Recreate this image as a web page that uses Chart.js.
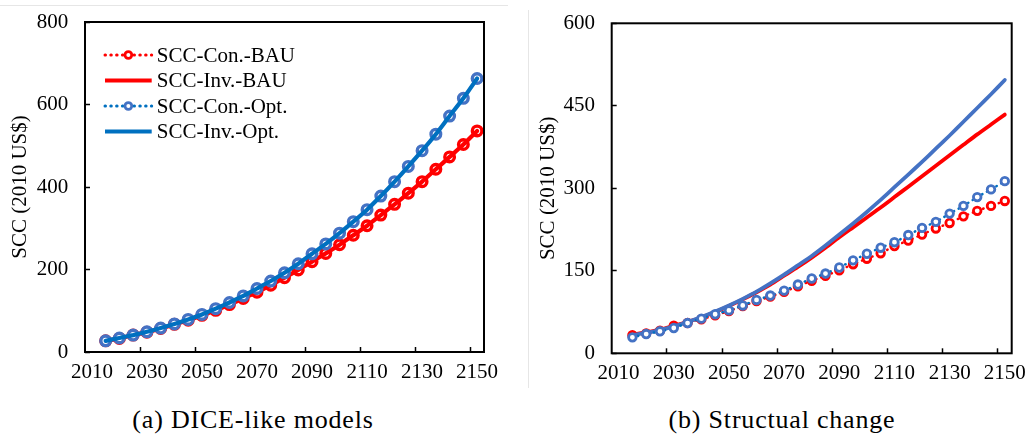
<!DOCTYPE html>
<html><head><meta charset="utf-8">
<script src="https://cdn.jsdelivr.net/npm/chart.js@4.4.1/dist/chart.umd.min.js"></script>
<style>
html,body{margin:0;padding:0;background:#fff;}
body{width:1028px;height:435px;position:relative;overflow:hidden;font-family:"Liberation Serif","Times New Roman",Tinos,"DejaVu Serif",serif;}
#c1{position:absolute;left:0;top:0;}
#c2{position:absolute;left:520px;top:0;}
.cap{position:absolute;top:405px;font-size:26px;line-height:30px;letter-spacing:0.8px;color:#000;white-space:nowrap;transform:translateX(-50%);}
.hline{position:absolute;left:0;top:5px;width:508px;height:1px;background:#e6e6e6;}
.vline{position:absolute;left:528px;top:10px;width:1px;height:378px;background:#e6e6e6;}
</style></head><body>
<div class="hline"></div>
<div class="vline"></div>
<canvas id="c1" width="520" height="400"></canvas>
<canvas id="c2" width="508" height="400"></canvas>
<div class="cap" style="left:253px">(a) DICE-like models</div>
<div class="cap" style="left:782px">(b) Structual change</div>
<script>
// ---- data ----
const years = [2015,2020,2025,2030,2035,2040,2045,2050,2055,2060,2065,2070,2075,2080,2085,2090,2095,2100,2105,2110,2115,2120,2125,2130,2135,2140,2145,2150];
const xCategories = ['2010','2015','2020','2025','2030','2035','2040','2045','2050','2055','2060','2065','2070','2075','2080','2085','2090','2095','2100','2105','2110','2115','2120','2125','2130','2135','2140','2145','2150'];
const xTickLabels = ['2010','2030','2050','2070','2090','2110','2130','2150'];
const leftTicksY = [0,200,400,600,800];
const rightTicksY = [0,150,300,450,600];
const seriesNames = ['SCC-Con.-BAU','SCC-Inv.-BAU','SCC-Con.-Opt.','SCC-Inv.-Opt.'];
const yTitle = 'SCC (2010 US$)';

// (a) DICE-like models
const leftConBAU = [27,33,41,48,57,67,77,89,101,115,130,145,162,180,199,219,239,260,283,306,332,358,385,413,443,473,503,536];
const leftInvBAU = [27,33,41,48,57,67,77,89,101,115,130,145,162,180,199,219,239,260,283,306,332,358,385,413,443,473,503,536];
const leftConOpt = [27,34,41,49,58,68,79,91,105,120,136,154,172,192,214,238,262,288,316,345,378,413,450,488,528,572,615,663];
const leftInvOpt = [27,34,41,49,58,68,79,91,105,120,136,154,172,192,214,238,262,288,316,345,378,413,450,488,528,572,615,663];

// (b) Structual change
const rightConBAU = [33,36,41,50,55,62,69,77,86,95,103,112,122,132,141,151,162,172,182,195,205,216,227,237,249,259,268,277];
const rightInvBAU = [34,38,43,50,57,65,75,86,98,111,125,141,157,174,192,211,229,247,265,284,303,322,341,360,379,398,416,434];
const rightConOpt = [29,35,40,46,55,63,71,78,87,97,105,114,125,136,145,156,169,181,192,202,215,228,239,254,268,284,298,313];
const rightInvOpt = [33,37,42,49,57,66,76,87,99,112,127,143,160,177,196,216,236,257,279,302,325,348,372,396,421,446,471,497];

// ---- styles ----
const RED = '#FF0000', BLUE_LINE = '#0070C0', BLUE_MARK = '#4472C4';
const FAMILY = '"Liberation Serif", "Times New Roman", Tinos, "DejaVu Serif", serif';
Chart.defaults.font.family = FAMILY;
Chart.defaults.font.size = 21;
Chart.defaults.color = '#000';

function conSet(label, vals, lineColor, markColor, r, bw, order) {
  return { label, data: [null, ...vals], kind: 'con', borderColor: lineColor, markColor,
    borderWidth: 2.5, borderDash: [0.5, 5], borderCapStyle: 'round', tension: 0.2,
    pointStyle: 'circle', pointRadius: r, pointBorderWidth: bw, pointBorderColor: markColor,
    pointBackgroundColor: '#fff', order };
}
function invSet(label, vals, color, w, order) {
  return { label, data: [null, ...vals], kind: 'inv', borderColor: color, borderWidth: w,
    borderCapStyle: 'round', tension: 0.2, pointRadius: 0, order };
}

const framePlugin = {
  id: 'frame',
  afterDraw(chart) {
    const { ctx, chartArea: a } = chart;
    ctx.save();
    ctx.strokeStyle = '#000'; ctx.lineWidth = 2;
    ctx.strokeRect(a.left, a.top, a.right - a.left, a.bottom - a.top);
    ctx.restore();
  }
};

const keyPlugin = {
  id: 'seriesKey',
  afterDraw(chart) {
    const { ctx, chartArea: a } = chart;
    const x0 = a.left + 20, x1 = a.left + 66.7, xt = a.left + 71.7;
    ctx.save();
    chart.data.datasets.forEach((ds, i) => {
      const y = a.top + 33 + i * 25.5;
      if (ds.kind === 'con') {
        ctx.strokeStyle = ds.borderColor; ctx.lineWidth = 3; ctx.lineCap = 'round';
        ctx.setLineDash([0.5, 5.3]);
        ctx.beginPath(); ctx.moveTo(x0, y); ctx.lineTo(x1, y); ctx.stroke();
        ctx.setLineDash([]);
        ctx.beginPath(); ctx.arc((x0 + x1) / 2, y, 3.4, 0, Math.PI * 2);
        ctx.fillStyle = '#fff'; ctx.fill();
        ctx.strokeStyle = ds.markColor; ctx.lineWidth = 2.8; ctx.stroke();
      } else {
        ctx.strokeStyle = ds.borderColor; ctx.lineWidth = 4; ctx.lineCap = 'butt';
        ctx.beginPath(); ctx.moveTo(x0, y); ctx.lineTo(x1, y); ctx.stroke();
      }
      ctx.fillStyle = '#000'; ctx.font = '21px ' + FAMILY;
      ctx.textBaseline = 'middle'; ctx.textAlign = 'left';
      ctx.fillText(ds.label, xt, y + 1);
    });
    ctx.restore();
  }
};

function makeChart(id, datasets, yMax, yTicks, geo, plugins) {
  return new Chart(document.getElementById(id), {
    type: 'line',
    data: { labels: xCategories, datasets },
    options: {
      responsive: false, animation: false, devicePixelRatio: 1,
      layout: { padding: { left: 0, top: geo.top, right: geo.right, bottom: 0 } },
      plugins: { legend: { display: false }, tooltip: { enabled: false } },
      scales: {
        x: {
          type: 'category', offset: true,
          grid: { display: true, offset: true, drawOnChartArea: false, drawTicks: true, tickLength: -5, tickWidth: 1.5,
                  tickColor: c => (c.index > 0 && c.index % 4 === 0) ? '#000' : 'rgba(0,0,0,0)' },
          border: { display: false },
          ticks: { autoSkip: false, maxRotation: 0, minRotation: 0, padding: 13, color: '#000',
                   callback(v) { const l = this.getLabelForValue(v); return xTickLabels.includes(l) ? l : ''; } },
          afterFit(s) { s.height = geo.xh; s.paddingLeft = 0; s.paddingRight = 0; }
        },
        y: {
          min: 0, max: yMax,
          afterBuildTicks(s) { s.ticks = yTicks.map(v => ({ value: v })); },
          grid: { display: true, drawOnChartArea: false, drawTicks: true, tickLength: -5, tickWidth: 1.5, tickColor: '#000' },
          border: { display: false },
          ticks: { padding: 21.7, color: '#000' },
          title: { display: true, text: yTitle, color: '#000', padding: { top: geo.tp, bottom: 0 } },
          afterFit(s) { s.width = geo.yw; s.paddingTop = 0; s.paddingBottom = 0; }
        }
      }
    },
    plugins
  });
}

function drawAll() {
  makeChart('c1', [
    conSet(seriesNames[0], leftConBAU, RED, RED, 4.8, 3.4, 3),
    invSet(seriesNames[1], leftInvBAU, RED, 4.2, 2),
    conSet(seriesNames[2], leftConOpt, BLUE_LINE, BLUE_MARK, 4.8, 3.4, 1),
    invSet(seriesNames[3], leftInvOpt, BLUE_LINE, 4.2, 0)
  ], 800, leftTicksY, { top: 22, right: 36, xh: 48, yw: 85, tp: 7.4 }, [framePlugin, keyPlugin]);

  makeChart('c2', [
    conSet(seriesNames[0], rightConBAU, RED, RED, 3.8, 2.8, 3),
    invSet(seriesNames[1], rightInvBAU, RED, 3.8, 2),
    conSet(seriesNames[2], rightConOpt, BLUE_LINE, BLUE_MARK, 3.8, 2.8, 0),
    invSet(seriesNames[3], rightInvOpt, BLUE_MARK, 3.8, 1)
  ], 600, rightTicksY, { top: 23.3, right: 16.3, xh: 46.7, yw: 91.7, tp: 15.7 }, [framePlugin]);
}
if (document.fonts && document.fonts.load) {
  document.fonts.load('21px "Liberation Serif"').then(drawAll, drawAll);
} else { drawAll(); }
</script>
</body></html>
